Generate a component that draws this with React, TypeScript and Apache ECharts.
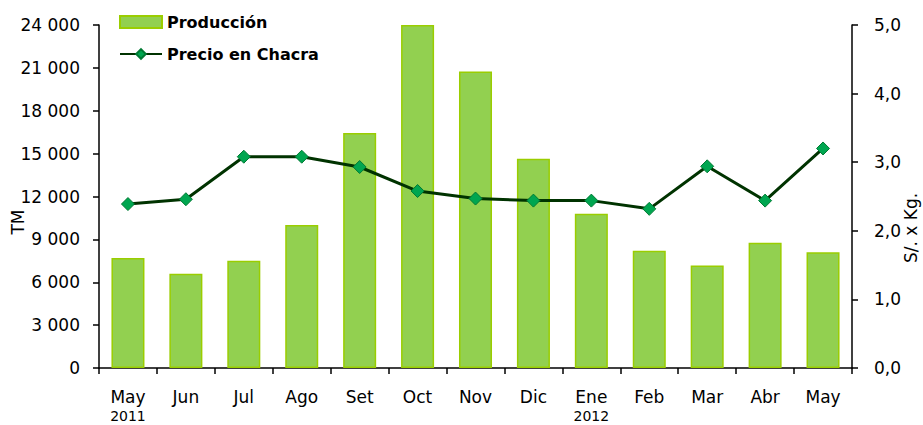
import React, { useEffect, useRef } from "react";
import * as echarts from "echarts";

const months = ["May", "Jun", "Jul", "Ago", "Set", "Oct", "Nov", "Dic", "Ene", "Feb", "Mar", "Abr", "May"];
const yearLabels = ["2011", "", "", "", "", "", "", "", "2012", "", "", "", ""];
const produccion = [7700, 6600, 7500, 10000, 16450, 24000, 20750, 14650, 10800, 8200, 7170, 8770, 8100];
const precio = [2.39, 2.46, 3.08, 3.08, 2.93, 2.58, 2.47, 2.44, 2.44, 2.32, 2.94, 2.44, 3.2];
const leftTicks = { min: 0, max: 24000, interval: 3000 };
const rightTicks = { min: 0, max: 5, interval: 1 };

const FONT = "DejaVu Sans";

export default function App() {
  const ref = useRef<HTMLDivElement>(null);
  useEffect(() => {
    document.body.style.margin = "0";
    const chart = echarts.init(ref.current!, null, { renderer: "svg" });
    const categories = months.map((m, i) => (yearLabels[i] ? m + "\n{y|" + yearLabels[i] + "}" : m));
    chart.setOption({
      animation: false,
      textStyle: { fontFamily: FONT },
      grid: { left: 99, right: 71, top: 25, bottom: 57, outerBoundsMode: "none", containLabel: false },
      legend: {
        orient: "vertical",
        left: 114,
        top: 9,
        itemWidth: 42,
        itemHeight: 12,
        itemGap: 16,
        textStyle: { fontFamily: FONT, fontSize: 16, fontWeight: "bold", color: "#000" },
        data: [
          { name: "Producción", icon: "rect" },
          { name: "Precio en Chacra" },
        ],
      },
      xAxis: {
        type: "category",
        data: categories,
        axisLine: { lineStyle: { color: "#000", width: 1.5 } },
        axisTick: { show: true, interval: 0, length: 6, lineStyle: { color: "#000", width: 1.5 } },
        axisLabel: {
          interval: 0,
          color: "#000",
          fontSize: 17,
          margin: 19,
          lineHeight: 20,
          fontFamily: FONT,
          rich: { y: { fontSize: 14, lineHeight: 17, color: "#000", fontFamily: FONT } },
        },
      },
      yAxis: [
        {
          type: "value",
          min: leftTicks.min,
          max: leftTicks.max,
          interval: leftTicks.interval,
          splitLine: { show: false },
          axisLine: { show: true, lineStyle: { color: "#000", width: 1.5 } },
          axisTick: { show: true, length: 6, lineStyle: { color: "#000", width: 1.5 } },
          axisLabel: {
            color: "#000",
            fontSize: 17,
            margin: 19,
            fontFamily: FONT,
            formatter: (v: number) => String(v).replace(/\B(?=(\d{3})+(?!\d))/g, " "),
          },
        },
        {
          type: "value",
          position: "right",
          min: rightTicks.min,
          max: rightTicks.max,
          interval: rightTicks.interval,
          splitLine: { show: false },
          axisLine: { show: true, lineStyle: { color: "#000", width: 1.5 } },
          axisTick: { show: true, length: 6, lineStyle: { color: "#000", width: 1.5 } },
          axisLabel: {
            color: "#000",
            fontSize: 17,
            margin: 22,
            fontFamily: FONT,
            formatter: (v: number) => v.toFixed(1).replace(".", ","),
          },
        },
      ],
      graphic: [
        {
          type: "text",
          x: 18,
          y: 222,
          rotation: Math.PI / 2,
          style: { text: "TM", fontSize: 17, fontFamily: FONT, fill: "#000", align: "center", verticalAlign: "middle" },
        },
        {
          type: "text",
          x: 911,
          y: 228,
          rotation: Math.PI / 2,
          style: { text: "S/. x Kg.", fontSize: 17, fontFamily: FONT, fill: "#000", align: "center", verticalAlign: "middle" },
        },
      ],
      series: [
        {
          name: "Producción",
          type: "bar",
          yAxisIndex: 0,
          data: produccion,
          barWidth: "57%",
          itemStyle: { color: "#92D050", borderColor: "#9ACD00", borderWidth: 1.5 },
        },
        {
          name: "Precio en Chacra",
          type: "line",
          yAxisIndex: 1,
          data: precio,
          symbol: "diamond",
          symbolSize: 13,
          lineStyle: { color: "#003300", width: 3 },
          itemStyle: { color: "#00A650", borderColor: "#007A33", borderWidth: 1 },
        },
      ],
    });
    return () => chart.dispose();
  }, []);
  return <div ref={ref} style={{ width: 923, height: 425 }} />;
}
